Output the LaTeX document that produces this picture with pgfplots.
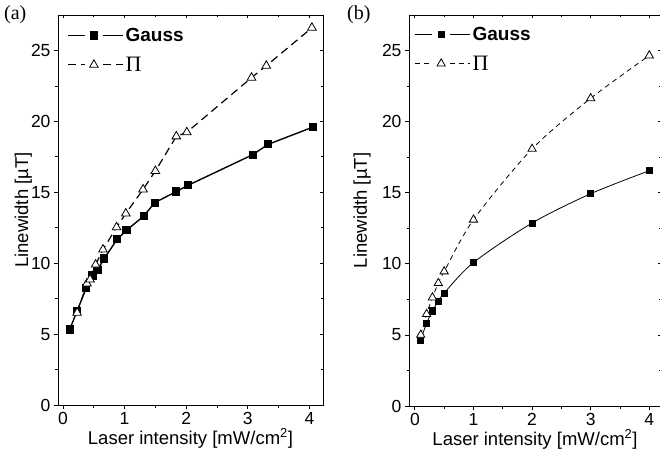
\documentclass[border=0pt]{standalone}
\usepackage{fontspec}
\setmainfont{Liberation Sans}
\newfontfamily\serif{Liberation Serif}
\usepackage{pgfplots}
\pgfplotsset{compat=1.18}

% measured from the reference (mW/cm^2, microtesla)
\pgfplotstableread{
x y
0.11 5.33
0.23 6.64
0.38 8.26
0.48 9.13
0.56 9.50
0.67 10.33
0.88 11.69
1.03 12.32
1.31 13.31
1.49 14.27
1.84 15.05
2.03 15.49
3.08 17.65
3.33 18.38
4.06 19.60
}\gaussA
\pgfplotstableread{
x y
0.23 6.50
0.39 8.57
0.44 8.85
0.53 9.90
0.65 10.96
0.87 12.53
1.02 13.50
1.30 15.20
1.50 16.50
1.84 18.94
2.01 19.23
3.06 23.08
3.30 23.92
4.04 26.60
}\piA
\pgfplotstableread{
x y
0.1 4.65
0.2 5.82
0.3 6.69
0.4 7.37
0.5 7.94
1.0 10.09
2.0 12.87
3.0 14.93
4.0 16.55
}\gaussB
\pgfplotstableread{
x y
0.1 5.00
0.2 6.46
0.3 7.63
0.4 8.64
0.5 9.46
1.0 13.10
2.0 18.08
3.0 21.64
4.0 24.65
}\piB

\pgfplotsset{
  panel/.style={
    scale only axis, anchor=south west,
    ymin=0, ymax=27.5,
    xtick={0,1,2,3,4}, ytick={0,5,10,15,20,25},
    minor x tick num=1, minor y tick num=1,
    xtick pos=left, ytick pos=left, tick align=outside,
    major tick length=4pt, minor tick length=2.5pt,
    tick style={black, line width=0.8pt},
    axis line style={line width=0.8pt},
    tick label style={font=\fontsize{17.5}{17.5}\selectfont},
    /pgf/number format/assume math mode=true,
    label style={font=\fontsize{18.5}{18.5}\selectfont},
    xlabel={Laser intensity [mW/cm\textsuperscript{2}]},
    ylabel={Linewidth [\textmu T]},
    xlabel style={at={(axis description cs:0.5,-0.1)}, anchor=base},
    legend cell align=left,
    legend image code/.code={
      \draw[##1, mark=none] (0pt,0pt) -- (17pt,0pt);
      \draw[##1, mark=none] (35pt,0pt) -- (55pt,0pt);
      \draw[##1, only marks] plot coordinates {(26pt,0pt)};
    },
  },
  inner/.style={
    scale only axis, anchor=south west,
    ymin=0, ymax=27.5,
    xtick={0,1,2,3,4}, ytick={0,5,10,15,20,25},
    minor x tick num=1, minor y tick num=1,
    xtick pos=right, ytick pos=right, tick align=inside,
    major tick length=3pt, minor tick length=2pt,
    tick style={black, line width=0.8pt},
    axis line style={line width=0.8pt},
    xticklabels={}, yticklabels={},
  },
}

\begin{document}
\begin{tikzpicture}
\useasboundingbox (0,0) rectangle (660pt,455pt);

% (a)
\begin{axis}[panel, at={(58pt,50pt)}, width=265pt, height=390pt,
  xmin=-0.08, xmax=4.22,
  ylabel style={at={(axis description cs:-0.113,0.5)}, anchor=base},
  legend style={at={(axis description cs:0.034,0.972)}, anchor=north west,
    draw=none, fill=none, inner sep=0pt, row sep=10pt,
    nodes={inner sep=2pt},
    font=\fontsize{19}{19}\selectfont}]
\addplot[black, line width=1.4pt, mark=square*, mark size=3.4pt]
  table[x=x, y=y] {\gaussA};
\addlegendentry{\textbf{Gauss}}
\addplot[black, line width=1.2pt, dash pattern=on 8pt off 5pt,
  mark=triangle*, mark size=5pt, mark options={solid, fill=white, line width=0.8pt}]
  table[x=x, y=y] {\piA};
\addlegendentry{{\serif\fontsize{22}{22}\selectfont Π}}
\end{axis}
\begin{axis}[inner, at={(58pt,50pt)}, width=265pt, height=390pt,
  xmin=-0.08, xmax=4.22]
\end{axis}

% (b)
\begin{axis}[panel, at={(409pt,49pt)}, width=252pt, height=391pt,
  xmin=-0.1, xmax=4.2,
  ylabel style={at={(axis description cs:-0.167,0.5)}, anchor=base},
  legend style={at={(axis description cs:0.022,0.975)}, anchor=north west,
    draw=none, fill=none, inner sep=0pt, row sep=10pt,
    nodes={inner sep=2pt},
    font=\fontsize{19}{19}\selectfont}]
\addplot[black, line width=0.8pt, smooth, mark=square*, mark size=3.1pt]
  table[x=x, y=y] {\gaussB};
\addlegendentry{\textbf{Gauss}}
\addplot[black, line width=0.8pt, smooth, dash pattern=on 5pt off 4pt,
  mark=triangle*, mark size=4.8pt, mark options={solid, fill=white, line width=0.8pt}]
  table[x=x, y=y] {\piB};
\addlegendentry{{\serif\fontsize{22}{22}\selectfont Π}}
\end{axis}
\begin{axis}[inner, at={(409pt,49pt)}, width=252pt, height=391pt,
  xmin=-0.1, xmax=4.2]
\end{axis}

\node[font=\serif\fontsize{20}{20}\selectfont, anchor=west, inner sep=0pt] at (4pt,440pt) {(a)};
\node[font=\serif\fontsize{20}{20}\selectfont, anchor=west, inner sep=0pt] at (347pt,440pt) {(b)};
\end{tikzpicture}
\end{document}
